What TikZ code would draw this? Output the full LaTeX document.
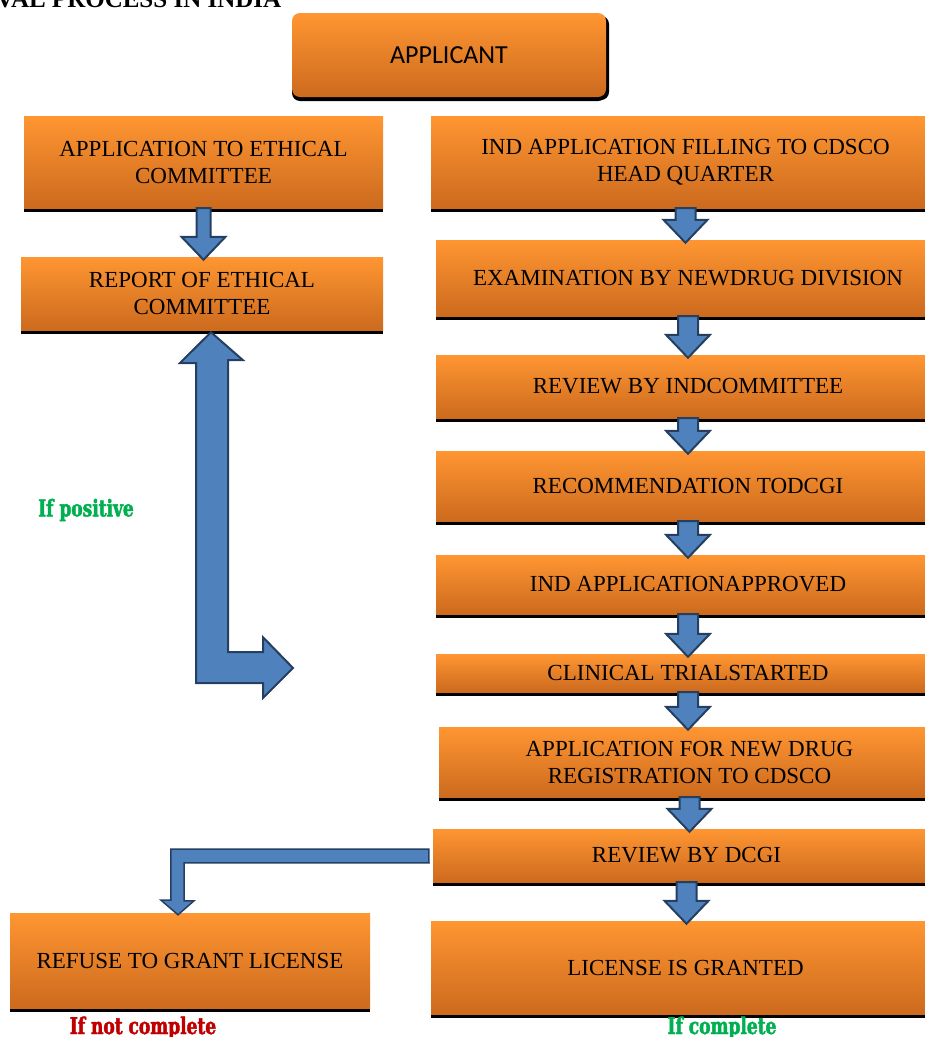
\documentclass[tikz,border=0pt]{standalone}
\usepackage{fontspec}
\setmainfont{Liberation Serif}
\newfontfamily\appfont{Carlito}
\newfontfamily\notefont[FakeStretch=0.74,FakeBold=2]{DejaVu Serif}
\usetikzlibrary{calc,shadows}

\definecolor{boxtop}{HTML}{FF9632}
\definecolor{boxbot}{HTML}{CC6A1E}
\definecolor{arrowfill}{HTML}{4F81BD}
\definecolor{arrowline}{HTML}{243F60}
\definecolor{okgreen}{HTML}{00B050}
\definecolor{nored}{HTML}{C00000}

% block arrow from node #2 down to node #3, half shaft width #1
\newcommand{\blockdown}[3][10]{%
  \draw[blockarrow] let \p1=(#2.south), \p2=(#3.north) in
    (\x1-#1pt,\y1) -- (\x1+#1pt,\y1) -- (\x1+#1pt,\y2+20pt)
    -- (\x1+22pt,\y2+20pt) -- (\x1,\y2-3pt) -- (\x1-22pt,\y2+20pt)
    -- (\x1-#1pt,\y2+20pt) -- cycle;}

\begin{document}
\begin{tikzpicture}[x=1pt,y=-1pt,
    box/.style={top color=boxtop, bottom color=boxbot, draw=none,
      align=center, inner sep=0pt, font=\fontsize{23}{27}\selectfont,
      drop shadow={fill=black, opacity=1, shadow xshift=0pt, shadow yshift=-4pt}},
    blockarrow/.style={fill=arrowfill, draw=arrowline, line width=2pt, line join=miter},
    note/.style={font=\notefont\bfseries\fontsize{23}{25}\selectfont, inner sep=0pt}]
  \useasboundingbox (0,0) rectangle (925,1037);
  \clip (0,0) rectangle (925,1037);

  % title, cut at the top
  \node[anchor=base west, inner sep=0pt, font=\bfseries\fontsize{25}{25}\selectfont] (title) at (-4,7) {VAL PROCESS IN INDIA};

  % applicant
  \node[box, rounded corners=8pt, minimum width=314pt, minimum height=84pt,
    font=\appfont\fontsize{26}{30}\selectfont,
    drop shadow={fill=black, opacity=1, shadow xshift=3pt, shadow yshift=-3pt}] (applicant) at (449,55) {APPLICANT};

  % ethical committee branch
  \node[box, minimum width=359pt, minimum height=92pt] (ethapp) at (203.5,162) {APPLICATION TO ETHICAL\\COMMITTEE};
  \node[box, minimum width=362pt, minimum height=73pt] (ethrep) at (202,293.5) {REPORT OF ETHICAL\\COMMITTEE};

  % CDSCO branch
  \node[box, minimum width=509pt, minimum height=92pt] (indapp) at (685.5,162) {IND APPLICATION FILLING TO CDSCO\\HEAD QUARTER};
  \node[box, minimum width=504pt, minimum height=76pt] (exam) at (688,278) {EXAMINATION BY NEWDRUG DIVISION};
  \node[box, minimum width=504pt, minimum height=63pt] (indrev) at (688,386.5) {REVIEW BY INDCOMMITTEE};
  \node[box, minimum width=504pt, minimum height=70pt] (recom) at (688,486) {RECOMMENDATION TODCGI};
  \node[box, minimum width=504pt, minimum height=59pt] (indok) at (688,584.5) {IND APPLICATIONAPPROVED};
  \node[box, minimum width=504pt, minimum height=38pt] (trial) at (688,673) {CLINICAL TRIALSTARTED};
  \node[box, minimum width=501pt, minimum height=70pt] (ndreg) at (689.5,762) {APPLICATION FOR NEW DRUG\\REGISTRATION TO CDSCO};
  \node[box, minimum width=507pt, minimum height=53pt] (dcgirev) at (686.5,855.5) {REVIEW BY DCGI};
  \node[box, minimum width=509pt, minimum height=93pt] (granted) at (685.5,967.5) {LICENSE IS GRANTED};
  \node[box, minimum width=360pt, minimum height=95pt] (refuse) at (190,960.5) {REFUSE TO GRANT LICENSE};

  % arrows down
  \blockdown[7]{ethapp}{ethrep}
  \blockdown{indapp}{exam}
  \blockdown{exam}{indrev}
  \blockdown{indrev}{recom}
  \blockdown{recom}{indok}
  \blockdown{indok}{trial}
  \blockdown{trial}{ndreg}
  \blockdown{ndreg}{dcgirev}
  \blockdown{dcgirev}{granted}

  % positive report goes over to the CDSCO branch
  \coordinate (posend) at (293,668);
  \draw[blockarrow] ($(ethrep.south)+(9,2)$) -- ++(32,28) -- ++(-15,0) -- ++(0,292)
    -- ++(35,0) -- ++(0,-15) -- (posend) -- ++(-30,30) -- ++(0,-15)
    -- ++(-67,0) -- ++(0,-320) -- ++(-16,0) -- cycle;

  % incomplete goes to refusal
  \draw[blockarrow, line width=1.5pt] ($(dcgirev.west)+(-4,-6.5)$) -- ++(-258,0) -- ++(0,51)
    -- ++(-10,0) -- ($(refuse.north)+(-12,2)$) -- ++(16,-14) -- ++(-10,0)
    -- ++(0,-38) -- ++(245,0) -- cycle;

  % labels
  \node[note, text=okgreen] (ifpos) at (86,510) {If positive};
  \node[note, text=nored, anchor=base] (ifnot) at (143,1034) {If not complete};
  \node[note, text=okgreen, anchor=base] (ifok) at (722,1034) {If complete};
\end{tikzpicture}
\end{document}
